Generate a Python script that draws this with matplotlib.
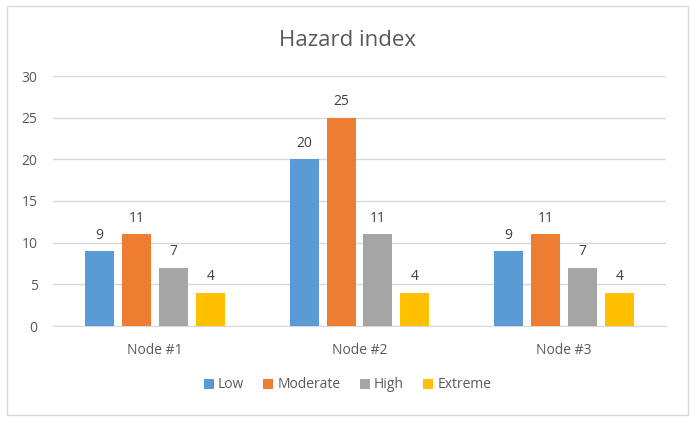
import numpy as np
import matplotlib
matplotlib.use("Agg")
import matplotlib.pyplot as plt
from matplotlib.patches import Rectangle

plt.rcParams['font.family'] = ['Open Sans', 'DejaVu Sans']

nodes = ['Node #1', 'Node #2', 'Node #3']
series = ['Low', 'Moderate', 'High', 'Extreme']
low = [9, 20, 9]
moderate = [11, 25, 11]
high = [7, 11, 7]
extreme = [4, 4, 4]
colors = ['#5b9bd5', '#ed7d31', '#a5a5a5', '#ffc000']

fig = plt.figure(figsize=(6.95, 4.21), dpi=100)
# outer chart border
fig.patches.append(Rectangle((7 / 695, 6 / 421), 681 / 695, 409 / 421, transform=fig.transFigure,
                             fill=False, edgecolor='#d9d9d9', linewidth=1))
ax = fig.add_axes([53 / 695, 1 - 326 / 421, 613 / 695, 250 / 421])

x = np.arange(len(nodes))
width = 0.142
step = 0.181
txt = '#404040'
for i, (name, vals) in enumerate(zip(series, [low, moderate, high, extreme])):
    pos = x + (i - 1.5) * step
    bars = ax.bar(pos, vals, width, color=colors[i], label=name, zorder=3)
    for b, v in zip(bars, vals):
        ax.text(b.get_x() + b.get_width() / 2, v + 1.0, str(v), ha='center', va='bottom',
                fontsize=10, color=txt)

ax.set_xlim(-0.5, 2.5)
ax.set_ylim(0, 30)
ax.set_yticks(range(0, 31, 5))
ax.set_xticks(x)
ax.set_xticklabels(nodes)
ax.grid(axis='y', color='#d9d9d9', linewidth=1, zorder=0)
for s in ['top', 'right', 'left']:
    ax.spines[s].set_visible(False)
ax.spines['bottom'].set_color('#d9d9d9')
ax.tick_params(axis='both', length=0, labelsize=10, colors='#595959')
ax.tick_params(axis='x', pad=12)
ax.tick_params(axis='y', pad=11)

fig.text(0.5, 1 - 40 / 421, 'Hazard index', ha='center', va='center', fontsize=16, color='#595959')
fig.legend(loc='center', bbox_to_anchor=(0.5, 1 - 385 / 421), ncol=4, frameon=False,
           fontsize=10, handlelength=0.7, handleheight=0.7, handletextpad=0.3,
           columnspacing=1.4, labelcolor='#595959')

fig.savefig('out.png', dpi=100)
